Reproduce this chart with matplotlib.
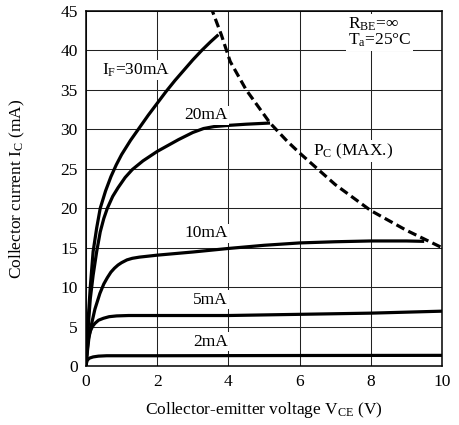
import matplotlib
matplotlib.use("Agg")
import matplotlib.pyplot as plt

# curves (V_CE in V, I_C in mA)
vce_30 = [0, 0.03, 0.07, 0.12, 0.2, 0.3, 0.4, 0.55, 0.7, 0.85, 1.0, 1.25, 1.5, 1.75,
          2.0, 2.25, 2.5, 2.75, 3.0, 3.25, 3.5, 3.72]
ic_30 = [0, 3.0, 6.5, 10.0, 14.5, 17.5, 20.0, 22.2, 24.0, 25.5, 26.8, 28.6, 30.2, 31.8,
         33.3, 34.8, 36.2, 37.5, 38.8, 40.0, 41.1, 42.0]

vce_20 = [0, 0.03, 0.07, 0.12, 0.2, 0.3, 0.4, 0.5, 0.6, 0.75, 0.9, 1.1, 1.3, 1.6,
          2.0, 2.3, 2.6, 3.0, 3.3, 3.6, 4.0, 4.5, 5.17]
ic_20 = [0, 2.5, 5.5, 8.5, 11.5, 14.5, 17.0, 18.7, 20.0, 21.5, 22.6, 23.9, 24.9, 26.0,
         27.2, 27.95, 28.7, 29.6, 30.1, 30.35, 30.5, 30.65, 30.8]

vce_10 = [0, 0.03, 0.08, 0.16, 0.25, 0.39, 0.5, 0.6, 0.7, 0.8, 0.9, 1.0, 1.15, 1.3,
          1.5, 2.0, 3.0, 4.0, 5.0, 6.0, 7.0, 8.0, 9.0, 9.5]
ic_10 = [0, 1.5, 3.5, 5.4, 7.2, 9.2, 10.4, 11.2, 11.9, 12.4, 12.8, 13.1, 13.45, 13.65,
         13.8, 14.05, 14.45, 14.9, 15.3, 15.6, 15.75, 15.85, 15.85, 15.8]

vce_5 = [0, 0.02, 0.05, 0.08, 0.12, 0.18, 0.25, 0.35, 0.49, 0.65, 0.86, 1.2, 2.0,
         4.0, 6.0, 8.0, 10.0]
ic_5 = [0, 1.2, 2.8, 3.8, 4.4, 5.0, 5.4, 5.8, 6.05, 6.25, 6.35, 6.4, 6.4,
        6.4, 6.55, 6.7, 6.95]

vce_2 = [0, 0.01, 0.03, 0.06, 0.1, 0.2, 0.35, 0.58, 2.0, 6.0, 10.0]
ic_2 = [0, 0.3, 0.65, 0.85, 1.0, 1.15, 1.25, 1.3, 1.3, 1.33, 1.35]

vce_pc = [3.5, 3.8, 4.05, 4.5, 5.17, 5.65, 6.0, 7.0, 8.0, 9.0, 10.0]
ic_pc = [45.6, 42.0, 38.6, 35.0, 30.8, 28.5, 27.0, 23.0, 19.7, 17.2, 15.0]

x_ticks = [0, 2, 4, 6, 8, 10]
y_ticks = [0, 5, 10, 15, 20, 25, 30, 35, 40, 45]

plt.rcParams["font.family"] = ["Liberation Serif", "DejaVu Serif"]
plt.rcParams["mathtext.fontset"] = "custom"
plt.rcParams["mathtext.rm"] = "Liberation Serif"
plt.rcParams["mathtext.it"] = "Liberation Serif:italic"

fig = plt.figure(figsize=(4.59, 4.25), dpi=100)
ax = fig.add_axes([86 / 459, 59 / 425, 356 / 459, 355 / 425])

ax.set_xlim(0, 10)
ax.set_ylim(0, 45)
ax.set_xticks(x_ticks)
ax.set_yticks(y_ticks)
ax.tick_params(length=0, labelsize=12.5, pad=6)
ax.grid(True, color="#222222", linewidth=0.75)
for s in ax.spines.values():
    s.set_linewidth(1.1)

kw = dict(color="black", linewidth=2.3, solid_capstyle="butt", solid_joinstyle="round")
ax.plot(vce_30, ic_30, **kw)
ax.plot(vce_20, ic_20, **kw)
ax.plot(vce_10, ic_10, **kw)
ax.plot(vce_5, ic_5, **kw)
ax.plot(vce_2, ic_2, **kw)
ax.plot(vce_pc, ic_pc, color="black", linewidth=2.3, dashes=(2.8, 1.4))

box = dict(facecolor="white", edgecolor="none", pad=1.0)
fs = 12.5
ax.text(0.45, 37.5, r"I$_\mathrm{F}$=30mA", fontsize=fs, va="center", ha="left", bbox=box)
ax.text(3.98, 31.8, "20mA", fontsize=fs, va="center", ha="right", bbox=box)
ax.text(3.98, 16.8, "10mA", fontsize=fs, va="center", ha="right", bbox=box)
ax.text(3.98, 8.4, "5mA", fontsize=fs, va="center", ha="right", bbox=box)
ax.text(3.98, 3.1, "2mA", fontsize=fs, va="center", ha="right", bbox=box)
ax.text(6.38, 27.2, r"P$_\mathrm{C}$ (MAX.)", fontsize=fs, va="center", ha="left", bbox=box)
ax.text(7.36, 42.3, "R$_\\mathrm{BE}$=∞\nT$_\\mathrm{a}$=25°C", fontsize=fs, va="center",
        ha="left", linespacing=0.85, bbox=dict(facecolor="white", edgecolor="none", pad=1.5))

ax.set_xlabel(r"Collector-emitter voltage V$_\mathrm{CE}$ (V)", fontsize=12.5)
ax.set_ylabel(r"Collector current I$_\mathrm{C}$ (mA)", fontsize=12.5)
ax.xaxis.set_label_coords(0.5, -0.095)
ax.yaxis.set_label_coords(-0.165, 0.5)

fig.savefig("out.png", dpi=100)
